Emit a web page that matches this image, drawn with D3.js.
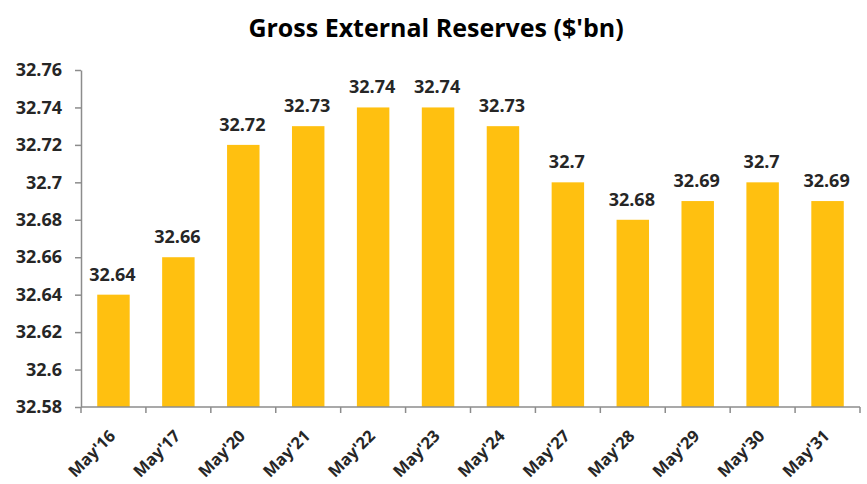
<!DOCTYPE html>
<html>
<head>
<meta charset="utf-8">
<script src="https://cdn.jsdelivr.net/npm/d3@7"></script>
<style>
  html, body { margin: 0; padding: 0; background: #fff; }
  svg text { font-family: "Open Sans", "Lato", sans-serif; font-weight: 700; fill: #262626; }
</style>
</head>
<body>
<svg id="chart" width="867" height="484"></svg>
<script>
// Gross external reserves, US$ billions, by date
const categories = ["May'16", "May'17", "May'20", "May'21", "May'22", "May'23",
                    "May'24", "May'27", "May'28", "May'29", "May'30", "May'31"];
const reserves = [32.64, 32.66, 32.72, 32.73, 32.74, 32.74, 32.73, 32.70, 32.68, 32.69, 32.70, 32.69];
const yTicks = [32.58, 32.60, 32.62, 32.64, 32.66, 32.68, 32.70, 32.72, 32.74, 32.76];
const title = "Gross External Reserves ($'bn)";

const svg = d3.select("#chart");
const margin = { left: 81, right: 7, top: 70, bottom: 77 };
const W = 867, H = 484;

const x = d3.scaleBand()
  .domain(categories)
  .range([margin.left, W - margin.right])
  .paddingInner(0.5)
  .paddingOuter(0.25);

const y = d3.scaleLinear()
  .domain([32.58, 32.76])
  .range([H - margin.bottom, margin.top]);

const fmt = v => String(+v.toFixed(2));
const axisColor = "#8c8c8c";

// title
svg.append("text")
  .attr("x", 436)
  .attr("y", 37)
  .attr("text-anchor", "middle")
  .style("font-size", "25px")
  .style("fill", "#000")
  .text(title);

// bars
svg.append("g").selectAll("rect")
  .data(reserves)
  .join("rect")
  .attr("x", (d, i) => x(categories[i]))
  .attr("y", d => y(d))
  .attr("width", x.bandwidth())
  .attr("height", d => y(32.58) - y(d))
  .attr("fill", "#FFC010");

// value labels
svg.append("g").selectAll("text")
  .data(reserves)
  .join("text")
  .attr("x", (d, i) => x(categories[i]) + x.bandwidth() / 2 - 1)
  .attr("y", d => y(d) - 14)
  .attr("text-anchor", "middle")
  .style("font-size", "18px")
  .text(d => fmt(d));

// y axis
const yAxis = svg.append("g")
  .attr("transform", `translate(${margin.left},0)`)
  .call(d3.axisLeft(y).tickValues(yTicks).tickFormat(fmt).tickSize(6).tickSizeOuter(0).tickPadding(13));
yAxis.select(".domain").attr("stroke", axisColor).attr("stroke-width", 1.5);
yAxis.selectAll(".tick line").attr("stroke", axisColor).attr("stroke-width", 1.5);
yAxis.selectAll(".tick text").style("font-size", "18px").attr("fill", "#262626").attr("font-family", null);

// x axis: ticks sit on category boundaries
const boundaries = d3.range(categories.length + 1).map(i => margin.left + i * (W - margin.right - margin.left) / categories.length);
const xg = svg.append("g");
xg.append("line")
  .attr("x1", margin.left).attr("x2", W - margin.right)
  .attr("y1", y(32.58)).attr("y2", y(32.58))
  .attr("stroke", axisColor).attr("stroke-width", 1.5);
xg.selectAll("line.tk")
  .data(boundaries)
  .join("line")
  .attr("class", "tk")
  .attr("x1", d => d).attr("x2", d => d)
  .attr("y1", y(32.58)).attr("y2", y(32.58) + 6)
  .attr("stroke", axisColor).attr("stroke-width", 1.5);
xg.selectAll("text")
  .data(categories)
  .join("text")
  .attr("transform", d => `translate(${x(d) + x.bandwidth() / 2 + 3},${y(32.58) + 30}) rotate(-45)`)
  .attr("text-anchor", "end")
  .style("font-size", "16.5px")
  .text(d => d);
</script>
</body>
</html>
